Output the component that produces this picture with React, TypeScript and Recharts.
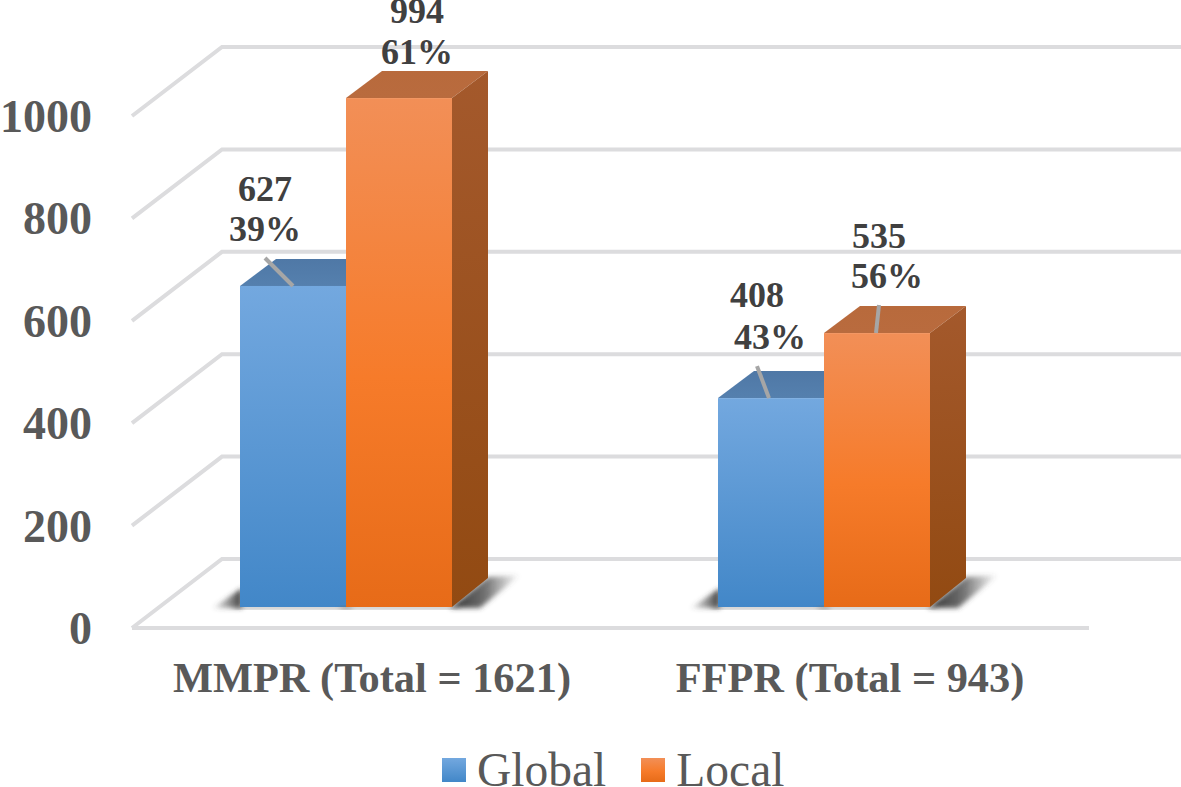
import { Bar, BarChart, CartesianGrid, LabelList, Legend, XAxis, YAxis } from "recharts";

const categories = ["MMPR (Total = 1621)", "FFPR (Total = 943)"];
const globalValues = [627, 408];
const localValues = [994, 535];
const globalPercents = ["39%", "43%"];
const localPercents = ["61%", "56%"];
const yTicks = [0, 200, 400, 600, 800, 1000];

const data = categories.map((name, i) => ({ name, Global: globalValues[i], Local: localValues[i] }));

const FONT = "'Liberation Serif', serif";
const WIDTH = 1181;
const HEIGHT = 787;
const PLOT_BOTTOM = 607;

// fake 3d box depth
const DEPTH_X = 36;
const DEPTH_Y = 27;

// the labels were dragged around by hand in the original, so each has its own offset from the bar top centre
type LabelPlace = { line1: number[]; line2: number[]; leader?: number[] };

const globalPlaces: LabelPlace[] = [
    { line1: [-28, -85], line2: [-28, -45], leader: [-28, -28, 0, 0] },
    { line1: [-14, -91], line2: [-1, -49], leader: [-14, -32, -2, 0] },
];
const localPlaces: LabelPlace[] = [
    { line1: [18, -75], line2: [18, -34] },
    { line1: [2, -85], line2: [10, -45], leader: [2, -28, -1, 0] },
];

function gridLine(props: any) {
    const y = props.y1;
    const isFloor = Math.abs(y - PLOT_BOTTOM) < 1;
    return (
        <g key={props.key}>
            <polyline
                points={`132,${y + 21} 222,${y - 48} ${WIDTH},${y - 48}`}
                fill="none"
                stroke="#dcdcde"
                strokeWidth={4}
            />
            {isFloor ? <line x1={132} y1={y + 21} x2={1089} y2={y + 21} stroke="#dcdcde" strokeWidth={4} /> : null}
        </g>
    );
}

function makeBox(id: string, side: "left" | "right") {
    return function Box(props: any) {
        const { x, y, width, height } = props;
        const base = y + height;
        const right = x + width;
        return (
            <g>
                {side === "left" ? (
                    <polygon
                        points={`${x - 27},${base + 1} ${x + 2},${base + 1} ${x + 2},${base - 19}`}
                        fill="url(#shadowLeft)"
                        filter="url(#soft)"
                    />
                ) : (
                    <polygon
                        points={`${right - 2},${base + 1} ${right + DEPTH_X},${base - 30} ${right + 68},${base - 32} ${right + 28},${base + 1}`}
                        fill="url(#shadowRight)"
                        filter="url(#soft)"
                    />
                )}
                <rect x={x - 6} y={base - 1} width={width + 12} height={3} fill="#6b6b6b" opacity={0.6} filter="url(#soft)" />
                <polygon
                    points={`${x},${y} ${x + DEPTH_X},${y - DEPTH_Y} ${right + DEPTH_X},${y - DEPTH_Y} ${right},${y}`}
                    fill={`url(#${id}Top)`}
                />
                <polygon
                    points={`${right},${y} ${right + DEPTH_X},${y - DEPTH_Y} ${right + DEPTH_X},${base - 29} ${right},${base}`}
                    fill={`url(#${id}Side)`}
                />
                <rect x={x} y={y} width={width} height={height} fill={`url(#${id}Front)`} />
            </g>
        );
    };
}

function makeLabel(values: number[], percents: string[], places: LabelPlace[]) {
    return function BarLabel(props: any) {
        const { x, y, width, index } = props;
        const cx = x + width / 2;
        const place = places[index];
        const textStyle = { fontFamily: FONT, fontSize: 36, fontWeight: 700, fill: "#404040" };
        return (
            <g>
                {place.leader ? (
                    <line
                        x1={cx + place.leader[0]}
                        y1={y + place.leader[1]}
                        x2={cx + place.leader[2]}
                        y2={y + place.leader[3]}
                        stroke="#a6a6a6"
                        strokeWidth={4}
                    />
                ) : null}
                <text x={cx + place.line1[0]} y={y + place.line1[1]} textAnchor="middle" style={textStyle}>
                    {values[index]}
                </text>
                <text x={cx + place.line2[0]} y={y + place.line2[1]} textAnchor="middle" style={textStyle}>
                    {percents[index]}
                </text>
            </g>
        );
    };
}

function YTick(props: any) {
    const { y, payload } = props;
    return (
        <text x={92} y={y + 37} textAnchor="end" fontFamily={FONT} fontSize={46} fontWeight={700} fill="#595959">
            {payload.value}
        </text>
    );
}

function XTick(props: any) {
    const { x, y, payload } = props;
    return (
        <text x={x + 26} y={y + 85} textAnchor="middle" fontFamily={FONT} fontSize={42.4} fontWeight={700} fill="#595959">
            {payload.value}
        </text>
    );
}

function LegendContent() {
    const items = [
        { name: "Global", color: "url(#globalFront)" },
        { name: "Local", color: "url(#localFront)" },
    ];
    return (
        <div style={{ display: "flex", alignItems: "center", height: 50, fontFamily: FONT, fontSize: 47.5, color: "#595959" }}>
            {items.map((item) => (
                <div key={item.name} style={{ display: "flex", alignItems: "center", marginRight: 35 }}>
                    <svg width={24} height={24} style={{ marginRight: 11 }}>
                        <rect width={24} height={24} fill={item.color} />
                    </svg>
                    <span>{item.name}</span>
                </div>
            ))}
        </div>
    );
}

export default function App() {
    return (
        <div style={{ position: "absolute", left: 0, top: 0, width: WIDTH, height: HEIGHT, background: "#fff", overflow: "hidden" }}>
            <BarChart
                width={WIDTH}
                height={HEIGHT}
                data={data}
                barSize={106}
                barGap={0}
                margin={{ top: 95, right: 118, bottom: 80, left: 0 }}
            >
                <defs>
                    <linearGradient id="globalFront" x1="0" y1="0" x2="0" y2="1">
                        <stop offset="0%" stopColor="#73a8df" />
                        <stop offset="100%" stopColor="#4287c8" />
                    </linearGradient>
                    <linearGradient id="globalTop" x1="0" y1="0" x2="0" y2="1">
                        <stop offset="0%" stopColor="#4f78a6" />
                        <stop offset="100%" stopColor="#5580ae" />
                    </linearGradient>
                    <linearGradient id="globalSide" x1="0" y1="0" x2="0" y2="1">
                        <stop offset="0%" stopColor="#3f6a9c" />
                        <stop offset="100%" stopColor="#2f5f96" />
                    </linearGradient>
                    <linearGradient id="localFront" x1="0" y1="0" x2="0" y2="1">
                        <stop offset="0%" stopColor="#f28f57" />
                        <stop offset="55%" stopColor="#f67b2a" />
                        <stop offset="100%" stopColor="#e76b18" />
                    </linearGradient>
                    <linearGradient id="localTop" x1="0" y1="0" x2="0" y2="1">
                        <stop offset="0%" stopColor="#b86a3c" />
                        <stop offset="100%" stopColor="#b96b3e" />
                    </linearGradient>
                    <linearGradient id="localSide" x1="0" y1="0" x2="0" y2="1">
                        <stop offset="0%" stopColor="#a4592c" />
                        <stop offset="100%" stopColor="#924a12" />
                    </linearGradient>
                    <linearGradient id="shadowLeft" x1="0" y1="0" x2="1" y2="0">
                        <stop offset="0%" stopColor="#505050" stopOpacity={0.1} />
                        <stop offset="100%" stopColor="#303030" stopOpacity={0.95} />
                    </linearGradient>
                    <linearGradient id="shadowRight" x1="0" y1="0" x2="1" y2="0">
                        <stop offset="0%" stopColor="#303030" stopOpacity={1} />
                        <stop offset="50%" stopColor="#404040" stopOpacity={0.75} />
                        <stop offset="100%" stopColor="#505050" stopOpacity={0} />
                    </linearGradient>
                    <filter id="soft" x="-30%" y="-30%" width="160%" height="160%">
                        <feGaussianBlur stdDeviation={2.6} />
                    </filter>
                </defs>
                <CartesianGrid vertical={false} horizontal={gridLine} />
                <XAxis dataKey="name" axisLine={false} tickLine={false} tickSize={0} tickMargin={0} height={50} interval={0} tick={XTick} />
                <YAxis
                    domain={[0, 1000]}
                    ticks={yTicks}
                    width={107}
                    axisLine={false}
                    tickLine={false}
                    interval={0}
                    tick={YTick}
                />
                <Legend
                    content={LegendContent}
                    verticalAlign="bottom"
                    height={50}
                    wrapperStyle={{ left: 442, top: 745, width: 420, height: 50 }}
                />
                <Bar dataKey="Global" fill="#5b9bd5" isAnimationActive={false} shape={makeBox("global", "left")}>
                    <LabelList content={makeLabel(globalValues, globalPercents, globalPlaces)} />
                </Bar>
                <Bar dataKey="Local" fill="#ed7d31" isAnimationActive={false} shape={makeBox("local", "right")}>
                    <LabelList content={makeLabel(localValues, localPercents, localPlaces)} />
                </Bar>
            </BarChart>
        </div>
    );
}
